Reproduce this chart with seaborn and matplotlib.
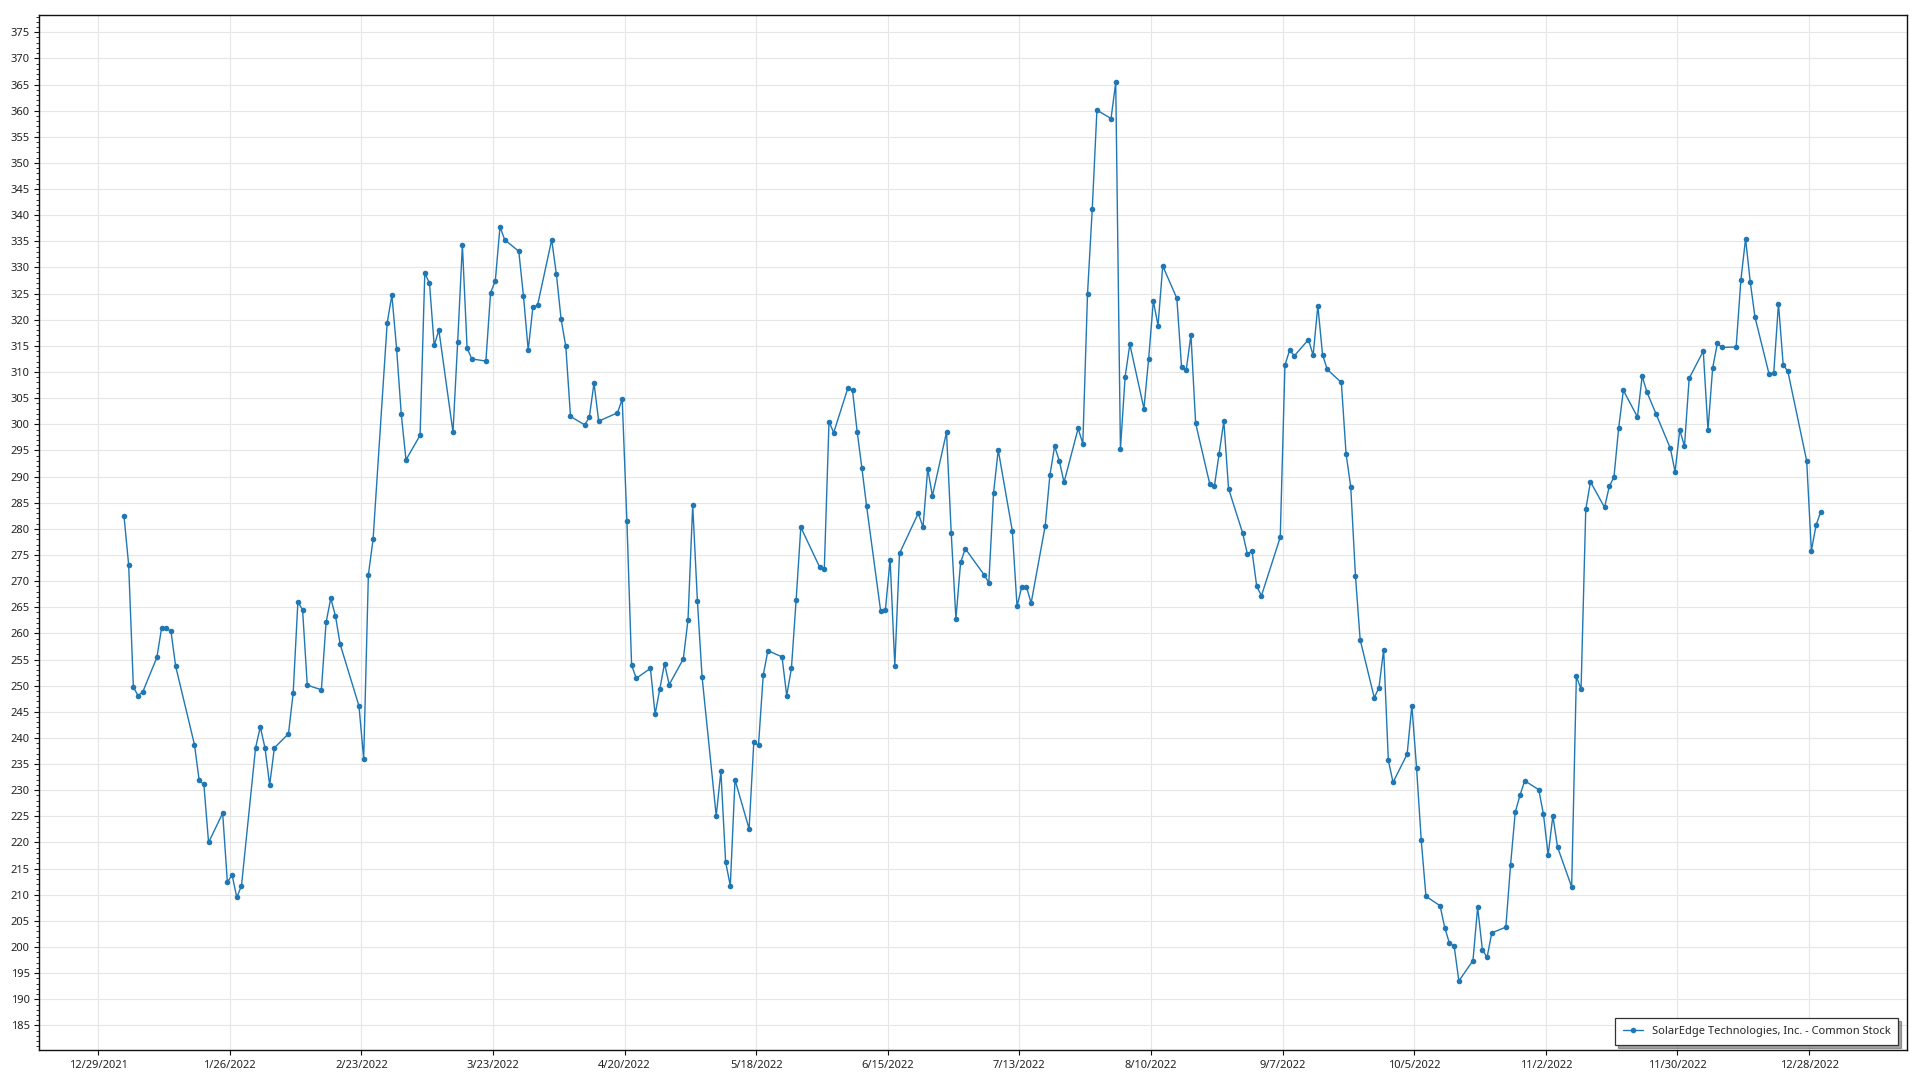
import pandas as pd
import matplotlib
matplotlib.use("Agg")
import matplotlib.pyplot as plt
import matplotlib.ticker as mticker
import seaborn as sns

# closing prices per month, one value per trading day
jan = [282.5, 273.1, 249.7, 248.1, 248.8, 255.4, 261.0, 261.0, 260.4, 253.7,
       238.7, 231.9, 231.1, 220.0, 225.6, 212.4, 213.8, 209.5, 211.7, 238.1]
feb = [242.1, 238.1, 231.0, 238.1, 240.8, 248.6, 266.0, 264.5, 250.1, 249.2,
       262.1, 266.7, 263.3, 257.9, 246.1, 236.0, 271.2, 278.0, 319.4]
mar = [324.7, 314.5, 301.9, 293.2, 297.9, 328.9, 327.0, 315.1, 318.0, 298.5,
       315.8, 334.3, 314.6, 312.5, 312.1, 325.2, 327.4, 337.8, 335.3, 333.1,
       324.5, 314.2, 322.4]
apr = [322.8, 335.3, 328.7, 320.1, 314.9, 301.5, 299.9, 301.3, 307.9, 300.6,
       302.2, 304.8, 281.5, 253.9, 251.4, 253.3, 244.5, 249.3, 254.2, 250.2]
may = [255.1, 262.6, 284.6, 266.2, 251.6, 225.1, 233.6, 216.3, 211.7, 232.0,
       222.6, 239.2, 238.6, 252.0, 256.7, 255.5, 248.1, 253.3, 266.3, 280.3,
       272.7]
jun = [272.4, 300.5, 298.4, 306.9, 306.5, 298.5, 291.6, 284.3, 264.2, 264.5,
       274.1, 253.8, 275.3, 283.0, 280.3, 291.5, 286.3, 298.5, 279.2, 262.8,
       273.6]
jul = [276.2, 271.2, 269.7, 286.8, 295.1, 279.6, 265.2, 268.9, 268.9, 265.8,
       280.6, 290.3, 295.8, 293.0, 288.9, 299.2, 296.3, 325.0, 341.1, 360.1]
aug = [358.5, 365.4, 295.3, 309.1, 315.3, 303.0, 312.5, 323.6, 318.9, 330.3,
       324.1, 311.0, 310.4, 317.1, 300.2, 288.6, 288.2, 294.4, 300.6, 287.7,
       279.2, 275.2, 275.7]
sep = [269.0, 267.2, 278.4, 311.3, 314.2, 313.1, 316.2, 313.2, 322.7, 313.3,
       310.5, 308.0, 294.4, 288.0, 271.0, 258.8, 247.7, 249.6, 256.9, 235.7,
       231.5]
oct_ = [236.9, 246.2, 234.3, 220.4, 209.7, 207.9, 203.7, 200.7, 200.2, 193.5,
        197.4, 207.6, 199.5, 198.0, 202.7, 203.8, 215.7, 225.8, 229.0, 231.8,
        230.1]
nov = [225.4, 217.6, 225.1, 219.1, 211.5, 251.8, 249.3, 283.7, 289.0, 284.1,
       288.1, 289.9, 299.3, 306.5, 301.4, 309.2, 306.2, 301.9, 295.4, 290.9,
       298.9]
dec = [295.8, 308.8, 314.0, 298.9, 310.8, 315.5, 314.7, 314.8, 327.6, 335.5,
       327.2, 320.5, 309.6, 309.9, 323.1, 311.4, 310.1, 293.0, 275.8, 280.7,
       283.3]

market_holidays = ["2022-01-17", "2022-02-21", "2022-04-15", "2022-05-30",
                   "2022-06-20", "2022-07-04", "2022-09-05", "2022-11-24",
                   "2022-12-26"]
series_name = "SolarEdge Technologies, Inc. - Common Stock"

prices = jan + feb + mar + apr + may + jun + jul + aug + sep + oct_ + nov + dec
days = pd.bdate_range("2022-01-03", "2022-12-30", freq="C", holidays=market_holidays)
df = pd.DataFrame({"date": days + pd.Timedelta(hours=12), "close": prices})

tick_dates = pd.date_range("2021-12-29", "2022-12-28", freq="28D")

sns.set_style("white")
plt.rcParams["font.family"] = ["Noto Sans", "DejaVu Sans"]

fig = plt.figure(figsize=(19.2, 10.8), dpi=100)
ax = fig.add_axes([0.0205, 0.0278, 0.9726, 0.9583])

sns.lineplot(data=df, x="date", y="close", ax=ax, color="#1f77b4",
             linewidth=1.0, marker="o", markersize=4, markeredgewidth=0,
             label=series_name)

ax.set_xlim(pd.Timestamp("2021-12-16 12:00"), pd.Timestamp("2023-01-17 19:00"))
ax.set_ylim(180.3, 378.3)

ax.set_xticks(tick_dates)
ax.set_xticklabels([f"{d.month}/{d.day}/{d.year}" for d in tick_dates])
ax.yaxis.set_major_locator(mticker.MultipleLocator(5))
ax.yaxis.set_minor_locator(mticker.MultipleLocator(1))

ax.grid(True, which="major", color="#e6e6e6", linewidth=0.8)
ax.set_axisbelow(True)
ax.tick_params(axis="both", which="major", direction="out", length=3.5,
               width=0.8, labelsize=8, labelcolor="#222222", color="#111111",
               left=True, bottom=True)
ax.tick_params(axis="y", which="minor", direction="out", length=2, width=0.6,
               color="#111111", left=True)
for s in ax.spines.values():
    s.set_color("#111111")
    s.set_linewidth(1.0)

ax.set_xlabel("")
ax.set_ylabel("")

leg = ax.legend(loc="lower right", bbox_to_anchor=(0.9954, 0.005),
                borderaxespad=0, fancybox=False, shadow=True, framealpha=1,
                edgecolor="#333333", fontsize=8, handlelength=1.8,
                borderpad=0.7)
leg.get_frame().set_linewidth(0.9)

fig.savefig("out.png", dpi=100)
